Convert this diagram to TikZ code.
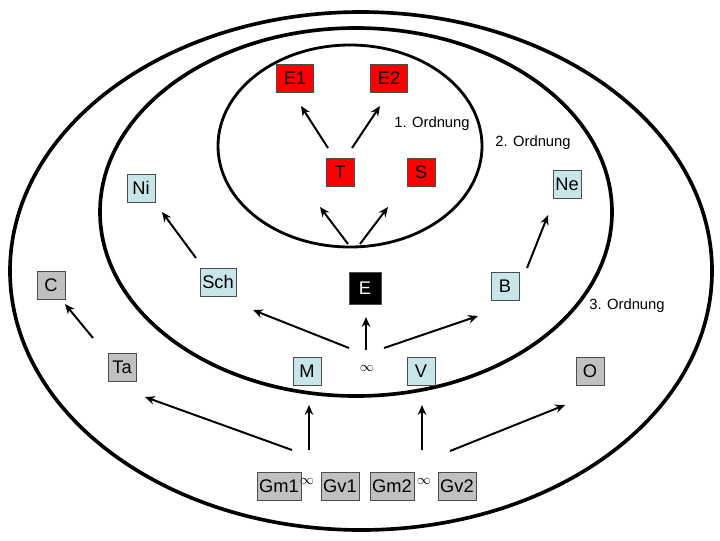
\documentclass[tikz,border=0pt]{standalone}
\usepackage{fontspec}
\setmainfont{Liberation Sans}
\usetikzlibrary{arrows.meta}
\definecolor{lblue}{RGB}{200,230,234}
\definecolor{lgray}{RGB}{192,192,192}
\begin{document}
\begin{tikzpicture}[x=0.025cm,y=-0.025cm,
  box/.style={draw=black!70,thin,font=\fontsize{13}{15}\selectfont,minimum size=20pt,inner sep=1.5pt},
  red box/.style={box,fill=red},
  blue box/.style={box,fill=lblue},
  gray box/.style={box,fill=lgray},
  ring/.style={line width=2.6pt},
  arr/.style={-{Stealth[length=7pt,width=6pt]},line width=1.4pt},
  lab/.style={font=\fontsize{10.5}{12}\selectfont}]
\useasboundingbox (0,0) rectangle (720,540);
% rings
\draw[ring] (361,271) ellipse (351 and 259);
\draw[ring] (356,212) ellipse (256 and 184);
\draw[ring,line width=2pt] (350,146) ellipse (132 and 101);
\node[lab] at (432,124) {1. Ordnung};
\node[lab] at (533,143) {2. Ordnung};
\node[lab] at (627,306) {3. Ordnung};

% 1. Ordnung
\node[red box,minimum width=26pt] (E1) at (295,78) {E1};
\node[red box,minimum width=26pt] (E2) at (389,78) {E2};
\node[red box] (T) at (340,172) {T};
\node[red box] (S) at (421,172) {S};
% 2. Ordnung
\node[blue box] (Ni) at (141,188) {Ni};
\node[blue box] (Ne) at (567,184) {Ne};
\node[blue box] (Sch) at (218,282) {Sch};
\node[box,fill=black,text=white,minimum size=23pt] (E) at (365,288) {E};
\node[blue box] (B) at (505,286) {B};
\node[blue box] (M) at (307,371) {M};
\node (inf) at (367,368) {$\infty$};
\node[blue box] (V) at (421,371) {V};
% 3. Ordnung
\node[gray box] (C) at (51,285) {C};
\node[gray box] (Ta) at (122,367) {Ta};
\node[gray box] (O) at (590,371) {O};
\node[gray box] (Gm1) at (279,486) {Gm1};
\node (inf1) at (307,481) {$\infty$};
\node[gray box] (Gv1) at (340,486) {Gv1};
\node[gray box] (Gm2) at (392,486) {Gm2};
\node (inf2) at (424,481) {$\infty$};
\node[gray box] (Gv2) at (457,486) {Gv2};

% arrows
\coordinate (t1) at (328,148); \coordinate (h1) at (301,106);
\coordinate (t2) at (352,148); \coordinate (h2) at (380,106);
\coordinate (t3) at (348,244); \coordinate (h3) at (320,207);
\coordinate (t4) at (360,244); \coordinate (h4) at (388,207);
\coordinate (t5) at (196,258); \coordinate (h5) at (162,212);
\coordinate (t6) at (527,268); \coordinate (h6) at (548,215);
\coordinate (t7) at (93,338);  \coordinate (h7) at (65,304);
\coordinate (t8) at (349,348); \coordinate (h8) at (253,310);
\coordinate (t9) at (366,350); \coordinate (h9) at (366,317);
\coordinate (t10) at (384,348); \coordinate (h10) at (478,316);
\coordinate (t11) at (292,450); \coordinate (h11) at (145,397);
\coordinate (t12) at (309,450); \coordinate (h12) at (309,405);
\coordinate (t13) at (422,450); \coordinate (h13) at (422,405);
\coordinate (t14) at (450,451); \coordinate (h14) at (565,405);
\foreach \i in {1,...,14}
  \draw[arr] (t\i) -- (h\i);
\end{tikzpicture}
\end{document}
